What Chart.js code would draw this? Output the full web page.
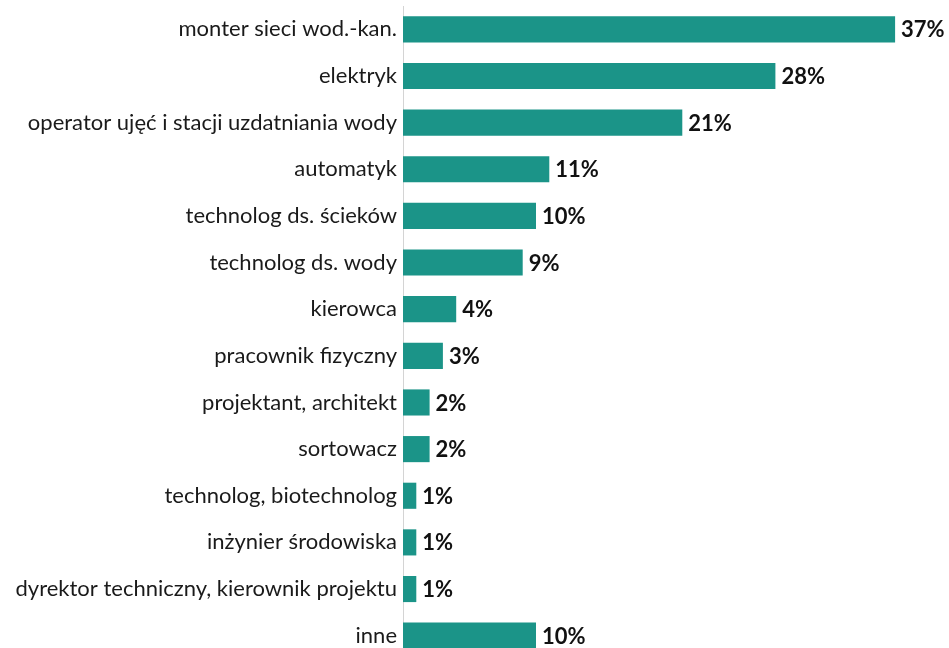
<!DOCTYPE html>
<html lang="pl">
<head>
<meta charset="utf-8">
<title>Zawody</title>
<script src="https://cdn.jsdelivr.net/npm/chart.js@4/dist/chart.umd.min.js"></script>
<style>
  html, body { margin: 0; padding: 0; background: #fff; overflow: hidden; }
  #wrap { width: 949px; height: 648px; overflow: hidden; }
</style>
</head>
<body>
<div id="wrap"><canvas id="chart" width="949" height="672"></canvas></div>
<script>
// Occupations and their share (%)
const categories = [
    'monter sieci wod.-kan.',
    'elektryk',
    'operator ujęć i stacji uzdatniania wody',
    'automatyk',
    'technolog ds. ścieków',
    'technolog ds. wody',
    'kierowca',
    'pracownik fizyczny',
    'projektant, architekt',
    'sortowacz',
    'technolog, biotechnolog',
    'inżynier środowiska',
    'dyrektor techniczny, kierownik projektu',
    'inne'
];
const shares = [37, 28, 21, 11, 10, 9, 4, 3, 2, 2, 1, 1, 1, 10];

const barColor = '#1b9488';
const fontFamily = 'Lato, "Open Sans", sans-serif';

// ===== Value labels at the end of each bar =====
const valueLabels = {
    id: 'valueLabels',
    afterDatasetsDraw(chart) {
        const c = chart.ctx;
        const meta = chart.getDatasetMeta(0);
        c.save();
        c.font = 'bold 22px ' + fontFamily;
        c.fillStyle = '#111';
        c.textAlign = 'left';
        c.textBaseline = 'middle';
        meta.data.forEach((bar, i) => {
            c.fillText(shares[i] + '%', bar.x + 6, bar.y + 1);
        });
        c.restore();
    }
};

new Chart(document.getElementById('chart'), {
    type: 'bar',
    data: {
        labels: categories,
        datasets: [{
            data: shares,
            backgroundColor: barColor,
            borderWidth: 0,
            barPercentage: 0.56,
            categoryPercentage: 1
        }]
    },
    options: {
        indexAxis: 'y',
        responsive: false,
        animation: false,
        layout: { padding: { top: 6, right: 14, bottom: 13, left: 0 } },
        plugins: {
            legend: { display: false },
            tooltip: { enabled: false }
        },
        scales: {
            x: {
                display: false,
                min: 0,
                max: 40
            },
            y: {
                grid: { display: false, drawTicks: false },
                border: { display: true, color: '#d4d4d4', width: 1 },
                ticks: {
                    color: '#1a1a1a',
                    padding: 6,
                    font: { family: fontFamily, size: 22 }
                },
                afterFit(scale) {
                    // fixed axis width, no extra room for the outer labels
                    scale.width = 403;
                    scale.paddingTop = 0;
                    scale.paddingBottom = 0;
                }
            }
        }
    },
    plugins: [valueLabels]
});
</script>
</body>
</html>
